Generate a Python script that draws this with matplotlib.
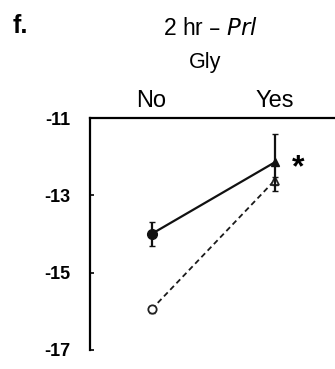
import matplotlib.pyplot as plt
import numpy as np

plt.rcParams['font.family'] = ['Liberation Sans', 'DejaVu Sans']

groups = ['No', 'Yes']
x = [1, 2]
# filled series (solid line) and open series (dashed line)
solid_mean = [-14.0, -12.15]
solid_err = [0.32, 0.74]
dash_mean = [-15.95, -12.62]
dash_err = [0.1, 0.1]
yticks = [-11, -13, -15, -17]

fig = plt.figure(figsize=(3.35, 3.69), dpi=100)
ax = fig.add_axes([90 / 335, 19 / 369, 246 / 335, 232 / 369])

ax.errorbar(x, dash_mean, yerr=dash_err, color='#1a1a1a', ls=(0, (3, 2)), lw=1.3,
            capsize=2, elinewidth=1.2, zorder=2)
ax.plot(x[0], dash_mean[0], 'o', ms=6, mfc='white', mec='#222222', mew=1.3, zorder=3)
ax.plot(x[1], dash_mean[1], '^', ms=6, mfc='white', mec='#222222', mew=1.3, zorder=3)

ax.errorbar(x, solid_mean, yerr=solid_err, color='#111111', ls='-', lw=1.6,
            capsize=2.5, elinewidth=1.6, zorder=4)
ax.plot(x[0], solid_mean[0], 'o', ms=7, color='#111111', zorder=5)
ax.plot(x[1], solid_mean[1], '^', ms=6, color='#111111', zorder=5)

ax.text(2.19, solid_mean[1] - 0.15, '*', fontsize=23, fontweight='bold', ha='center', va='center')

ax.set_xlim(0.5, 2.5)
ax.set_ylim(-17, -11)
ax.set_yticks(yticks)
ax.set_yticklabels([str(v) for v in yticks], fontweight='bold', fontsize=13)
ax.tick_params(axis='y', direction='in', length=3, width=1.2, pad=14)
ax.xaxis.tick_top()
ax.set_xticks(x)
ax.set_xticklabels(groups, fontsize=17)
ax.tick_params(axis='x', length=0, pad=4.5)

for s in ['bottom', 'right']:
    ax.spines[s].set_visible(False)
for s in ['top', 'left']:
    ax.spines[s].set_linewidth(1.6)

fig.text(205 / 335, 1 - 68 / 369, 'Gly', fontsize=15.5, ha='center', va='baseline')
fig.text(211 / 335, 1 - 35 / 369, '2 hr – $\\it{Prl}$', fontsize=16.5, ha='center', va='baseline')
fig.text(13 / 335, 1 - 33 / 369, 'f.', fontsize=18, fontweight='bold', ha='left', va='baseline')

fig.savefig('out.png', dpi=100)
